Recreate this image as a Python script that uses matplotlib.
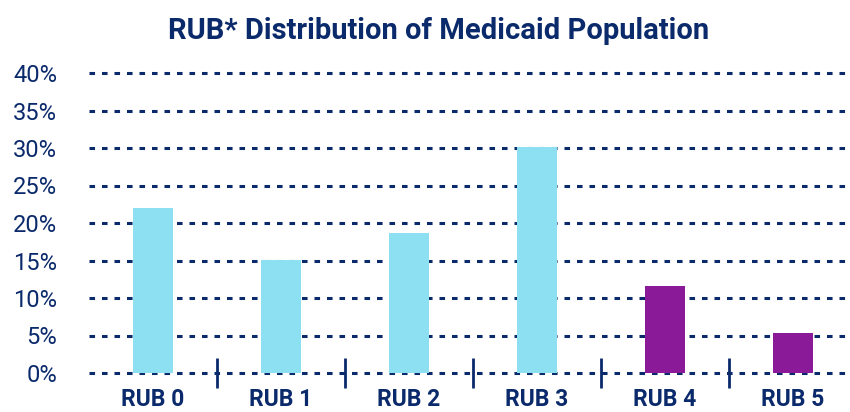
import matplotlib
matplotlib.use("Agg")
import matplotlib.pyplot as plt
import numpy as np

categories = ["RUB 0", "RUB 1", "RUB 2", "RUB 3", "RUB 4", "RUB 5"]
values = [22.0, 15.1, 18.7, 30.1, 11.6, 5.3]
yticks = [0, 5, 10, 15, 20, 25, 30, 35, 40]

navy = "#0b2a6b"
light_blue = "#8ddff2"
purple = "#8b1a98"
colors = [light_blue] * 4 + [purple] * 2

plt.rcParams["font.family"] = ["Roboto", "DejaVu Sans"]
plt.rcParams["lines.scale_dashes"] = False

fig = plt.figure(figsize=(8.5, 4.12), dpi=100)
ax = fig.add_axes([89 / 850, (412 - 373) / 412, 768 / 850, 300 / 412])

x = np.arange(len(categories))
ax.bar(x, values, width=0.31, color=colors, zorder=2)

ax.set_xlim(-0.5, len(categories) - 0.5)
ax.set_ylim(0, 40)
ax.set_yticks(yticks)
ax.set_yticklabels([f"{v}%" for v in yticks], fontsize=17, color=navy)
for y in yticks:
    ax.axhline(y, color=navy, lw=2.2, linestyle=(0, (4, 5)), zorder=1, clip_on=False)

ax.set_xticks(x)
ax.set_xticklabels(categories, fontsize=16.5, fontweight="bold", color=navy)
ax.set_xticks(x[:-1] + 0.5, minor=True)
ax.tick_params(axis="x", which="major", length=0, pad=11)
ax.tick_params(axis="x", which="minor", direction="inout", length=22, width=2, color=navy)
ax.tick_params(axis="y", length=0, pad=23)

for s in ax.spines.values():
    s.set_visible(False)

fig.text(439 / 850, 1 - 31 / 412, "RUB* Distribution of Medicaid Population",
         ha="center", va="center", fontsize=21, fontweight="bold", color=navy,
         family=["Liberation Sans Narrow", "Roboto", "DejaVu Sans"])

fig.savefig("out.png", dpi=100)
